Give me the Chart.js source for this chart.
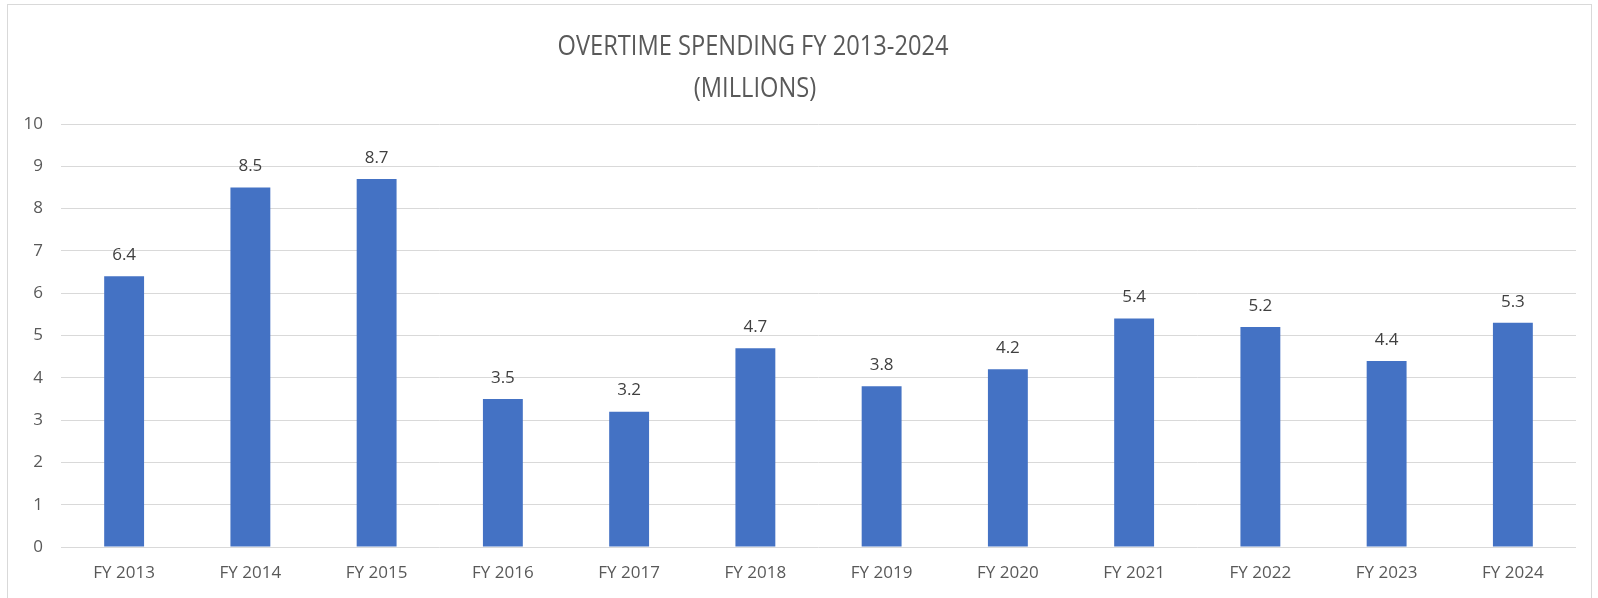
<!DOCTYPE html>
<html>
<head>
<meta charset="utf-8">
<script src="https://cdn.jsdelivr.net/npm/chart.js@4.4.1/dist/chart.umd.min.js"></script>
<style>
  html, body { margin: 0; padding: 0; background: #fff; }
  #wrap { width: 1598px; height: 598px; position: relative; }
</style>
</head>
<body>
<div id="wrap"><canvas id="overtime"></canvas></div>
<script>
// donnees
const years = ['FY 2013', 'FY 2014', 'FY 2015', 'FY 2016', 'FY 2017', 'FY 2018',
               'FY 2019', 'FY 2020', 'FY 2021', 'FY 2022', 'FY 2023', 'FY 2024'];
const spending = [6.4, 8.5, 8.7, 3.5, 3.2, 4.7, 3.8, 4.2, 5.4, 5.2, 4.4, 5.3];
const yTicks = [0, 1, 2, 3, 4, 5, 6, 7, 8, 9, 10];
const titleLines = ['OVERTIME SPENDING FY 2013-2024', '(MILLIONS)'];

const FONT = "'Open Sans', 'Liberation Sans', sans-serif";

// fond + cadre + titre
const frame = {
    id: 'frame',
    beforeDraw(chart) {
        const ctx = chart.ctx;
        ctx.save();
        ctx.fillStyle = '#fff';
        ctx.fillRect(0, 0, chart.width, chart.height);
        ctx.strokeStyle = '#d9d9d9';
        ctx.lineWidth = 1;
        ctx.strokeRect(7.5, 4.5, 1584, 600);
        ctx.restore();
    },
    afterDraw(chart) {
        const ctx = chart.ctx;
        ctx.save();
        ctx.fillStyle = '#595959';
        ctx.font = '28px ' + FONT;
        ctx.textAlign = 'center';
        ctx.textBaseline = 'middle';
        // titre plus etroit (police type Calibri Light)
        const sx = 391 / ctx.measureText(titleLines[0]).width;
        ctx.translate(753, 0);
        ctx.scale(sx, 1);
        ctx.fillText(titleLines[0], 0, 47);
        ctx.fillText(titleLines[1], 2 / sx, 89);
        ctx.restore();
    }
};

// etiquettes de valeurs
const valueLabels = {
    id: 'valueLabels',
    afterDatasetsDraw(chart) {
        const ctx = chart.ctx;
        const meta = chart.getDatasetMeta(0);
        ctx.save();
        ctx.fillStyle = '#404040';
        ctx.font = '17px ' + FONT;
        ctx.textAlign = 'center';
        ctx.textBaseline = 'middle';
        meta.data.forEach((bar, i) => {
            ctx.fillText(spending[i].toFixed(1), bar.x, bar.y - 21);
        });
        ctx.restore();
    }
};

new Chart(document.getElementById('overtime'), {
    type: 'bar',
    data: {
        labels: years,
        datasets: [{
            data: spending,
            backgroundColor: '#4472C4',
            barPercentage: 0.316,
            categoryPercentage: 1
        }]
    },
    options: {
        responsive: true,
        maintainAspectRatio: false,
        animation: false,
        layout: { padding: { left: 0, top: 124, right: 22, bottom: 0 } },
        plugins: {
            legend: { display: false },
            title: { display: false },
            tooltip: { enabled: false }
        },
        scales: {
            x: {
                grid: { display: false, drawTicks: false },
                border: { display: false },
                ticks: { color: '#595959', font: { family: FONT, size: 17 }, padding: 16, maxRotation: 0 },
                afterFit(scale) { scale.height = 51; }
            },
            y: {
                min: 0,
                max: 10,
                afterBuildTicks(scale) { scale.ticks = yTicks.map(v => ({ value: v })); },
                grid: { color: '#d9d9d9', lineWidth: 1, drawTicks: false },
                border: { display: false },
                ticks: { color: '#595959', font: { family: FONT, size: 17 }, padding: 18 },
                afterFit(scale) { scale.width = 61; }
            }
        }
    },
    plugins: [frame, valueLabels]
});
</script>
</body>
</html>
